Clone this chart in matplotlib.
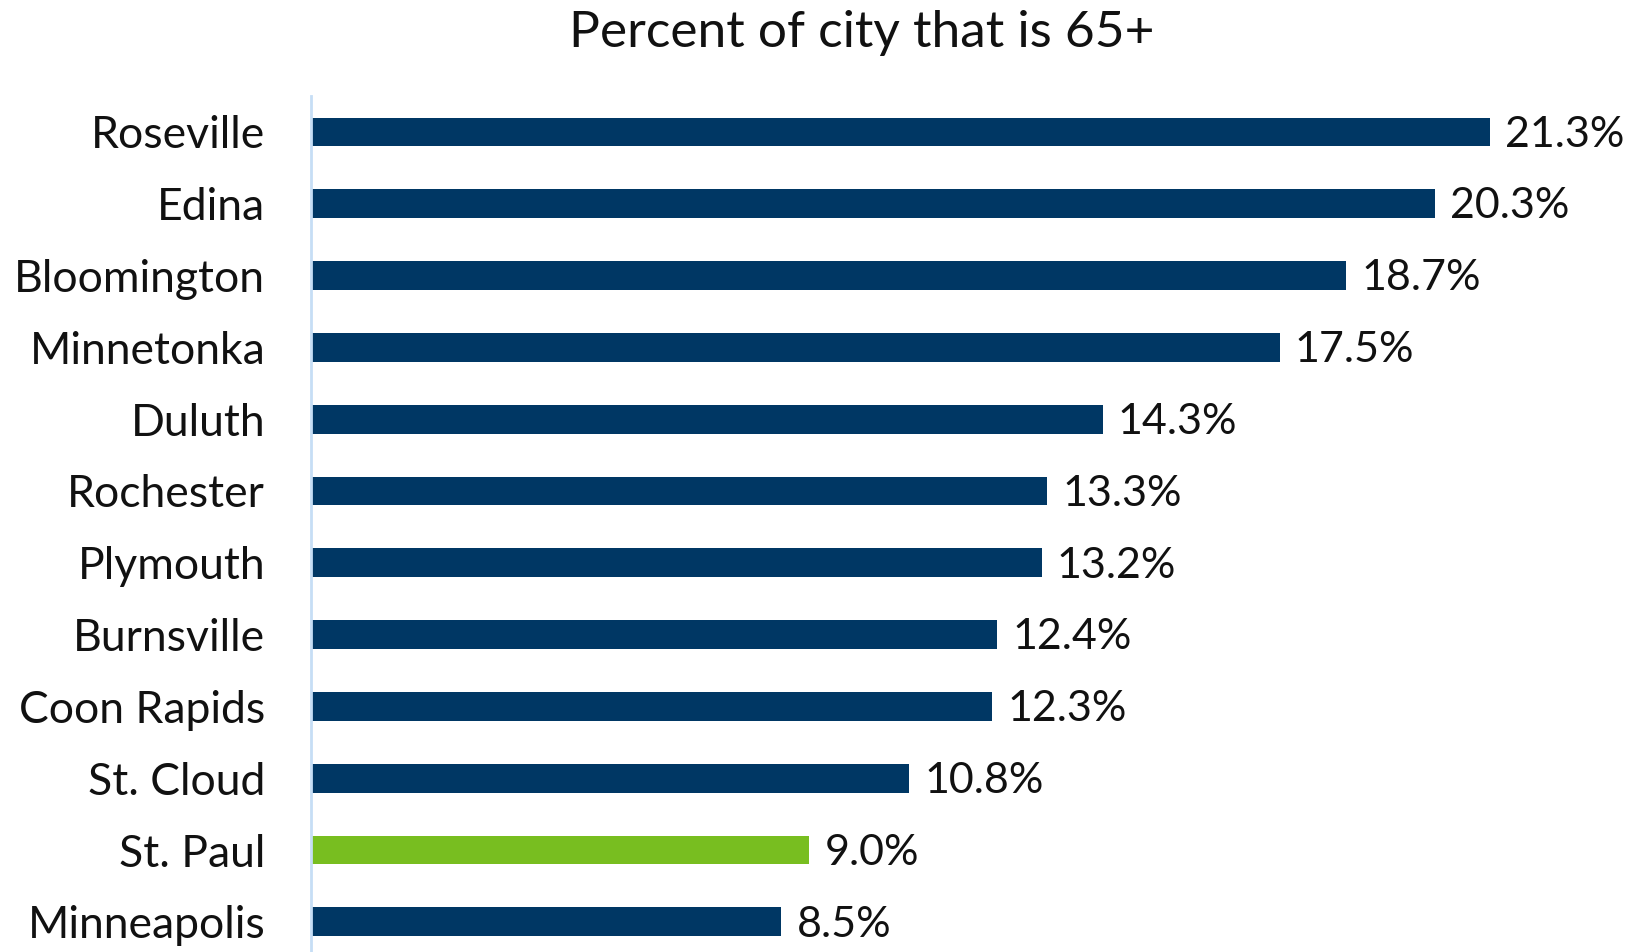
import matplotlib
matplotlib.use("Agg")
import matplotlib.pyplot as plt

cities = ["Roseville", "Edina", "Bloomington", "Minnetonka", "Duluth", "Rochester",
          "Plymouth", "Burnsville", "Coon Rapids", "St. Cloud", "St. Paul", "Minneapolis"]
values = [21.3, 20.3, 18.7, 17.5, 14.3, 13.3, 13.2, 12.4, 12.3, 10.8, 9.0, 8.5]
highlight = "St. Paul"

NAVY = "#003764"
GREEN = "#78be20"

plt.rcParams['font.family'] = ['Lato', 'DejaVu Sans']

W, H = 1630, 952
fig = plt.figure(figsize=(W/100, H/100), dpi=100)
left = 311 / W
top = 96 / H
ax = fig.add_axes([left, 0, 1 - left, 1 - top])

colors = [GREEN if c == highlight else NAVY for c in cities]
y = list(range(len(cities)))
ax.barh(y, values, height=0.4, color=colors)
ax.set_ylim(11.42, -0.5)
ax.set_xlim(0, 23.83)

ax.set_yticks(y)
ax.set_yticklabels(cities, fontsize=32, color="#111111")
ax.tick_params(axis='y', length=0, pad=33)
ax.set_xticks([])
for s in ["top", "right", "bottom"]:
    ax.spines[s].set_visible(False)
ax.spines["left"].set_color("#c6def5")
ax.spines["left"].set_linewidth(2)

for yi, v in zip(y, values):
    ax.annotate(f"{v:.1f}%", xy=(v, yi), xytext=(11, -2), textcoords="offset points",
                va="center", ha="left", fontsize=31, color="#111111")

fig.text(862 / W, 1 - 33 / H, "Percent of city that is 65+", ha="center", va="center",
         fontsize=37, color="#111111")

fig.savefig("out.png", dpi=100)
